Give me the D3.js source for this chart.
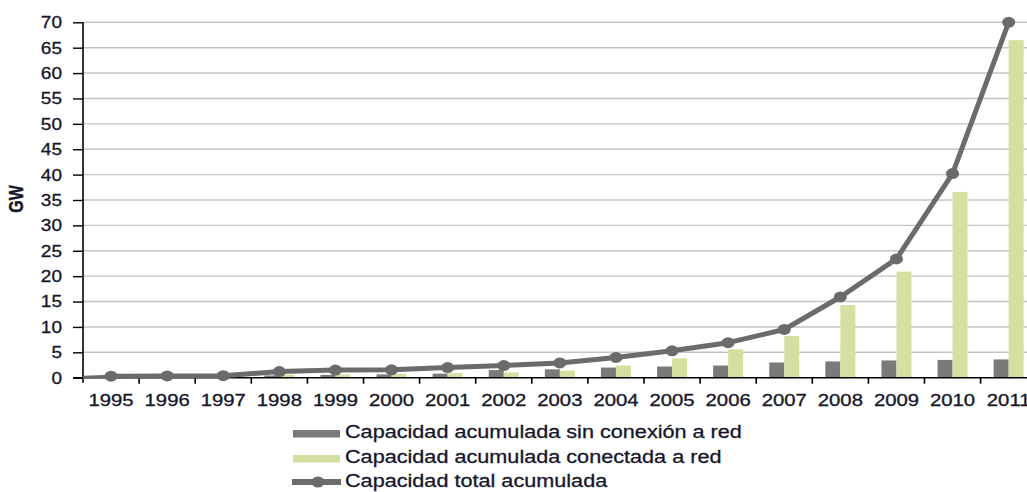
<!DOCTYPE html>
<meta charset="utf-8">
<script src="https://d3js.org/d3.v7.min.js"></script>
<style>
    body { margin: 0; background: #fff; }
    text { font-family: "Liberation Sans", Arial, sans-serif; fill: #16162a; stroke: #16162a; stroke-width: 0.3px; }
</style>
<div id="vis"></div>
<script>
    // data (GW)
    var years = ["1995", "1996", "1997", "1998", "1999", "2000", "2001", "2002", "2003",
        "2004", "2005", "2006", "2007", "2008", "2009", "2010", "2011"];
    var offGrid = [0.25, 0.3, 0.35, 0.45, 0.55, 0.65, 0.8, 1.5, 1.65, 2.0, 2.2, 2.4, 3.0, 3.2, 3.4, 3.5, 3.6];
    var onGrid = [0.05, 0.1, 0.15, 0.6, 0.65, 0.75, 0.9, 1.05, 1.4, 2.4, 3.8, 5.6, 8.2, 14.3, 20.9, 36.6, 66.5];
    var total = [0.3, 0.35, 0.4, 1.2, 1.5, 1.55, 2.0, 2.4, 2.9, 4.0, 5.3, 6.9, 9.5, 15.9, 23.4, 40.2, 70.0];
    var yTicks = [0, 5, 10, 15, 20, 25, 30, 35, 40, 45, 50, 55, 60, 65, 70];
    var legendLabels = ["Capacidad acumulada sin conexión a red",
        "Capacidad acumulada conectada a red",
        "Capacidad total acumulada"];

    var W = 1027, H = 492;
    var mgn = { lft: 83, top: 22.3, btm: 377.7 };
    var cGrey = "#7a7a7a", cGreen = "#d3e0a2", cLine = "#6b6b6b";

    var svg = d3.select("#vis").append("svg")
        .attr("width", W).attr("height", H);

    // scales
    var x = d3.scaleBand().domain(years).range([mgn.lft, mgn.lft + 17 * 56.1]);
    var sub = d3.scaleBand().domain(["off", "on"]).range([0, x.bandwidth()]).paddingOuter(0.87);
    var y = d3.scaleLinear().domain([0, 70]).range([mgn.btm, mgn.top]);

    // gridlines
    svg.append("g").selectAll("line")
        .data(yTicks.filter(function (d) { return d > 0; }))
        .enter().append("line")
        .attr("x1", mgn.lft).attr("x2", W)
        .attr("y1", function (d) { return y(d); })
        .attr("y2", function (d) { return y(d); })
        .attr("stroke", "#c4c4c4").attr("stroke-width", 1.4);

    // bars
    var bars = svg.append("g");
    bars.selectAll(".off").data(years).enter().append("rect")
        .attr("x", function (d) { return x(d) + sub("off"); })
        .attr("width", sub.bandwidth())
        .attr("y", function (d, i) { return y(offGrid[i]); })
        .attr("height", function (d, i) { return y(0) - y(offGrid[i]); })
        .attr("fill", cGrey);
    bars.selectAll(".on").data(years).enter().append("rect")
        .attr("x", function (d) { return x(d) + sub("on"); })
        .attr("width", sub.bandwidth())
        .attr("y", function (d, i) { return y(onGrid[i]); })
        .attr("height", function (d, i) { return y(0) - y(onGrid[i]); })
        .attr("fill", cGreen);

    // y axis
    var yAx = svg.append("g")
        .attr("transform", "translate(" + mgn.lft + ",0)")
        .call(d3.axisLeft(y).tickValues(yTicks).tickSize(10).tickPadding(11).tickSizeOuter(0));
    yAx.select(".domain").attr("stroke", "#000").attr("stroke-width", 1.6)
        .attr("d", "M0," + (mgn.top) + "V" + (mgn.btm + 5));
    yAx.selectAll(".tick line").attr("stroke", "#000").attr("stroke-width", 1.4);
    yAx.selectAll("text")
        .style("font-size", "17px")
        .attr("x", -21 / 1.12)
        .attr("transform", "scale(1.12,1)");

    // x axis
    var xAx = svg.append("g")
        .attr("transform", "translate(0," + mgn.btm + ")")
        .call(d3.axisBottom(x).tickSize(0).tickPadding(17).tickSizeOuter(0));
    xAx.select(".domain").attr("stroke", "#000").attr("stroke-width", 1.6)
        .attr("d", "M" + (mgn.lft - 10) + ",0H" + W);
    xAx.selectAll("text")
        .style("font-size", "16px")
        .attr("transform", "scale(1.27,1)")
        .attr("x", 0);
    // boundary ticks between categories
    xAx.selectAll(".bt").data(years).enter().append("line")
        .attr("x1", function (d) { return x(d) + x.bandwidth(); })
        .attr("x2", function (d) { return x(d) + x.bandwidth(); })
        .attr("y1", 0).attr("y2", 6)
        .attr("stroke", "#000").attr("stroke-width", 1.6);

    // total line (short lead-in from the axis as in the original)
    var cx = function (d, i) { return x(years[i]) + x.bandwidth() / 2; };
    var line = d3.line()
        .x(cx)
        .y(function (d) { return y(d); });
    svg.append("path")
        .attr("d", "M" + mgn.lft + "," + y(0.1) + "L" + cx(null, 0) + "," + y(total[0]))
        .attr("stroke", cLine).attr("stroke-width", 3);
    svg.append("path").datum(total)
        .attr("d", line)
        .attr("fill", "none").attr("stroke", cLine)
        .attr("stroke-width", 5).attr("stroke-linejoin", "round");
    svg.append("g").selectAll("ellipse").data(total).enter().append("ellipse")
        .attr("cx", cx)
        .attr("cy", function (d) { return y(d); })
        .attr("rx", 6.5).attr("ry", 5.5)
        .attr("fill", cLine);

    // GW label
    svg.append("text")
        .attr("transform", "translate(23,199) rotate(-90) scale(1,1.25)")
        .attr("text-anchor", "middle")
        .style("font-size", "16px").style("font-weight", "bold")
        .text("GW");

    // legend
    var lg = svg.append("g");
    var rowY = [433.5, 458.5, 482];
    lg.append("rect").attr("x", 293).attr("y", rowY[0] - 3.5).attr("width", 47).attr("height", 7.5).attr("fill", cGrey);
    lg.append("rect").attr("x", 293).attr("y", rowY[1] - 3.5).attr("width", 47).attr("height", 7.5).attr("fill", cGreen);
    lg.append("line").attr("x1", 292).attr("x2", 341).attr("y1", rowY[2]).attr("y2", rowY[2])
        .attr("stroke", cLine).attr("stroke-width", 6);
    lg.append("ellipse").attr("cx", 318).attr("cy", rowY[2]).attr("rx", 6.5).attr("ry", 5.5).attr("fill", cLine);
    lg.selectAll("text").data(legendLabels).enter().append("text")
        .attr("x", 345 / 1.17)
        .attr("y", function (d, i) { return rowY[i] + 5; })
        .attr("transform", "scale(1.17,1)")
        .style("font-size", "18.5px")
        .text(function (d) { return d; });
</script>
